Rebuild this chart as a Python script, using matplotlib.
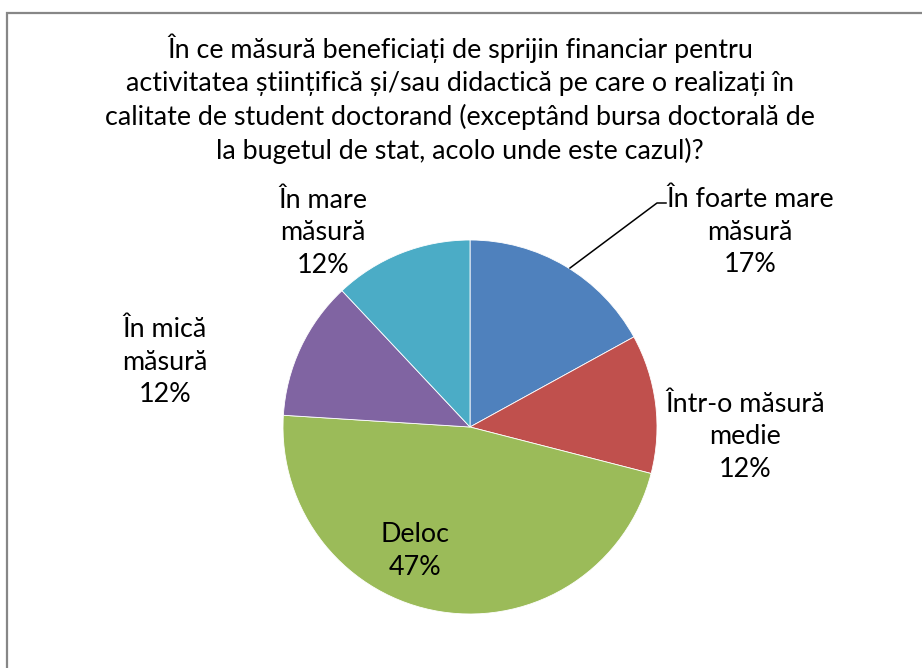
import matplotlib
matplotlib.use("Agg")
from matplotlib import pyplot as plt

# data
categories = ["În foarte mare\nmăsură", "Într-o măsură\nmedie", "Deloc",
              "În mică\nmăsură", "În mare\nmăsură"]
percents = [17, 12, 47, 12, 12]
colors = ["#4F81BD", "#C0504D", "#9BBB59", "#8064A2", "#4BACC6"]

title = ("În ce măsură beneficiați de sprijin financiar pentru\n"
         "activitatea științifică și/sau didactică pe care o realizați în\n"
         "calitate de student doctorand (exceptând bursa doctorală de\n"
         "la bugetul de stat, acolo unde este cazul)?")

W, H = 922, 668
FONT = "Lato"
FS = 19.4
LS = 1.39

# label centres in pixel coords (x, y from top)
label_pos = [(750, 232), (745, 437), (415, 551), (165, 362), (323, 233)]


def py(y):
    ''' Convert pixel y (from top) to data y '''
    return H - y


fig = plt.figure(figsize=(W / 100, H / 100), dpi=100)
ax = fig.add_axes([0, 0, 1, 1])

ax.pie(percents, colors=colors, startangle=90, counterclock=False,
       center=(470, py(427)), radius=187,
       wedgeprops=dict(edgecolor="white", linewidth=0.6))

for name, pct, (x, y) in zip(categories, percents, label_pos):
    ax.text(x, py(y), f"{name}\n{pct}%", ha="center", va="center",
            fontsize=FS, family=FONT, linespacing=LS, color="black")

# leader line for the first label
ax.plot([570, 657, 666], [py(268), py(203), py(203)], color="black", lw=1.1)

ax.text(460, py(99), title, ha="center", va="center", fontsize=FS,
        family=FONT, linespacing=LS, color="black")

# chart border (only top and left visible)
ax.plot([6.5, 6.5, W + 5], [-5, py(12.5), py(12.5)], color="#878787", lw=1.6,
        solid_joinstyle="miter")

ax.set_xlim(0, W)
ax.set_ylim(0, H)
ax.set_aspect("equal")
ax.axis("off")

fig.savefig("out.png", dpi=100)
